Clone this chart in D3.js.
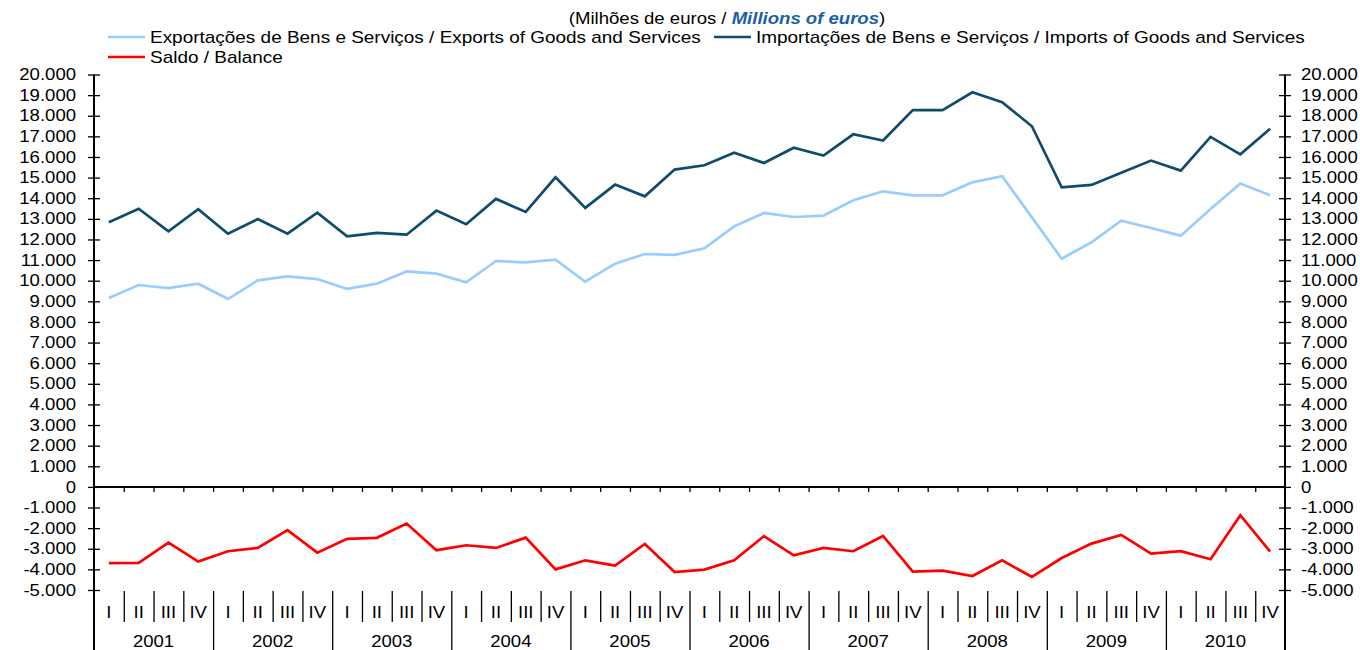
<!DOCTYPE html>
<html>
<head>
<meta charset="utf-8">
<script src="https://cdn.jsdelivr.net/npm/d3@7"></script>
<style>
  body { margin: 0; background: #fff; }
  svg { display: block; font-family: "Liberation Sans", Arial, sans-serif; }
  .tick text { font-size: 16px; fill: #000; }
</style>
</head>
<body>
<div id="chart"></div>
<script>
// --------------------------------------
//  Data
// --------------------------------------

const years = ["2001", "2002", "2003", "2004", "2005", "2006", "2007", "2008", "2009", "2010"];
const quarters = ["I", "II", "III", "IV"];

const exportsSeries = [9160, 9790, 9645, 9855, 9110, 10015, 10210, 10080, 9600, 9855,
  10450, 10340, 9920, 10955, 10890, 11020, 9950, 10825, 11295, 11250,
  11570, 12635, 13285, 13090, 13155, 13900, 14335, 14140, 14140, 14770,
  15065, 13070, 11070, 11860, 12910, 12555, 12185, 13480, 14710, 14140];

const importsSeries = [12830, 13490, 12390, 13470, 12280, 12990, 12280, 13300, 12150, 12315,
  12230, 13400, 12740, 13965, 13335, 15015, 13530, 14660, 14090, 15390,
  15600, 16210, 15710, 16450, 16070, 17100, 16800, 18270, 18270, 19140,
  18660, 17490, 14530, 14645, 15230, 15825, 15340, 16975, 16130, 17365];

const balanceSeries = [-3700, -3680, -2700, -3620, -3120, -2960, -2100, -3190, -2520, -2470,
  -1780, -3070, -2830, -2960, -2460, -4000, -3560, -3820, -2770, -4130,
  -4010, -3560, -2390, -3320, -2960, -3120, -2380, -4110, -4060, -4320,
  -3560, -4370, -3450, -2750, -2330, -3240, -3120, -3510, -1370, -3140];

const yTicks = d3.range(-5000, 20001, 1000);

// --------------------------------------
//  Canvas
// --------------------------------------

const width = 1360, height = 650;
const plotLeft = 94, plotRight = 1285, plotTop = 74.5, plotBottom = 590;
const stretch = 1.16; // the reference's text is wider than plain Arial
const legendStretch = 1.185;

const svg = d3.select("#chart").append("svg")
  .attr("width", width).attr("height", height);

const periods = years.flatMap(yr => quarters.map(q => `${yr}-${q}`));

const x = d3.scaleBand(periods, [plotLeft, plotRight]);
const xb = d3.scaleLinear([0, periods.length], [plotLeft, plotRight]); // band boundaries
const y = d3.scaleLinear([-5000, 20000], [plotBottom, plotTop]);

const fmt = d3.formatLocale({ decimal: ",", thousands: ".", grouping: [3], currency: ["", ""], minus: "-" }).format(",");

// --------------------------------------
//  Axes
// --------------------------------------

const yLeft = svg.append("g")
  .attr("transform", `translate(${plotLeft},0)`)
  .call(d3.axisLeft(y).tickValues(yTicks).tickSize(6).tickFormat(fmt));
yLeft.select(".domain").remove();
yLeft.selectAll(".tick line").attr("x1", 6).attr("stroke", "#000").attr("stroke-width", 1.3);
yLeft.selectAll(".tick text")
  .attr("x", -18 / stretch)
  .attr("transform", `scale(${stretch},1)`);

const yRight = svg.append("g")
  .attr("transform", `translate(${plotRight},0)`)
  .call(d3.axisRight(y).tickValues(yTicks).tickSize(6).tickFormat(fmt));
yRight.select(".domain").remove();
yRight.selectAll(".tick line").attr("x1", -6).attr("stroke", "#000").attr("stroke-width", 1.3);
yRight.selectAll(".tick text")
  .attr("x", 16 / stretch)
  .attr("transform", `scale(${stretch},1)`);

// vertical axis lines run down to the bottom of the category labels
[plotLeft, plotRight].forEach(px => {
  svg.append("line")
    .attr("x1", px).attr("x2", px)
    .attr("y1", plotTop).attr("y2", height)
    .attr("stroke", "#000").attr("stroke-width", 2);
});

// zero line with boundary ticks
const zeroAxis = svg.append("g")
  .attr("transform", `translate(0,${y(0)})`)
  .call(d3.axisBottom(xb).tickValues(d3.range(1, periods.length)).tickSize(5).tickFormat(""));
zeroAxis.select(".domain").remove();
zeroAxis.selectAll(".tick line").attr("stroke", "#000").attr("stroke-width", 1.3);
svg.append("line")
  .attr("x1", plotLeft).attr("x2", plotRight)
  .attr("y1", y(0)).attr("y2", y(0))
  .attr("stroke", "#000").attr("stroke-width", 2);

// quarter separators (short) and year separators (long)
const qSep = svg.append("g")
  .attr("transform", `translate(0,591)`)
  .call(d3.axisBottom(xb).tickValues(d3.range(1, periods.length).filter(i => i % 4 !== 0)).tickSize(31).tickFormat(""));
qSep.select(".domain").remove();
qSep.selectAll(".tick line").attr("stroke", "#000").attr("stroke-width", 1.3);

const ySep = svg.append("g")
  .attr("transform", `translate(0,591)`)
  .call(d3.axisBottom(xb).tickValues(d3.range(4, periods.length, 4)).tickSize(59).tickFormat(""));
ySep.select(".domain").remove();
ySep.selectAll(".tick line").attr("stroke", "#000").attr("stroke-width", 1.3);

// quarter labels
const qAxis = svg.append("g")
  .attr("transform", `translate(0,603)`)
  .call(d3.axisBottom(x).tickSize(0).tickFormat(d => d.split("-")[1]));
qAxis.select(".domain").remove();
qAxis.selectAll(".tick text")
  .attr("y", 0).attr("dy", "0.95em")
  .attr("transform", `scale(${stretch},1)`);

// year labels
svg.append("g").selectAll("g")
  .data(years)
  .join("g")
  .attr("transform", (d, i) => `translate(${xb(i * 4 + 2)},647) scale(${stretch},1)`)
  .append("text")
  .attr("text-anchor", "middle")
  .attr("font-size", 16)
  .text(d => d);

// --------------------------------------
//  Lines
// --------------------------------------

const line = d3.line()
  .x((d, i) => x(periods[i]) + x.bandwidth() / 2)
  .y(d => y(d));

const series = [
  { name: "Exportações de Bens e Serviços / Exports of Goods and Services", values: exportsSeries, color: "#99CCFF", w: 2.7 },
  { name: "Importações de Bens e Serviços / Imports of Goods and Services", values: importsSeries, color: "#0F4C6C", w: 2.7 },
  { name: "Saldo / Balance", values: balanceSeries, color: "#FF0000", w: 2.7 }
];

svg.append("g").selectAll("path")
  .data(series)
  .join("path")
  .attr("d", d => line(d.values))
  .attr("fill", "none")
  .attr("stroke", d => d.color)
  .attr("stroke-width", d => d.w)
  .attr("stroke-linejoin", "miter");

// --------------------------------------
//  Title and legend
// --------------------------------------

const title = svg.append("g")
  .attr("transform", `translate(727,24) scale(${stretch},1)`)
  .append("text")
  .attr("text-anchor", "middle")
  .attr("font-size", 16);
title.append("tspan").text("(Milhões de euros / ");
title.append("tspan").attr("fill", "#1A5FA6").attr("font-weight", "bold").attr("font-style", "italic").text("Millions  of euros");
title.append("tspan").text(")");

const legendPos = [[108, 37], [714, 37], [108, 57]];

const legend = svg.append("g").selectAll("g")
  .data(series)
  .join("g")
  .attr("transform", (d, i) => `translate(${legendPos[i][0]},${legendPos[i][1]})`);

legend.append("line")
  .attr("x1", 0).attr("x2", 37)
  .attr("stroke", d => d.color)
  .attr("stroke-width", 2.7);

legend.append("text")
  .attr("transform", `translate(42,6) scale(${legendStretch},1)`)
  .attr("font-size", 16)
  .text(d => d.name);
</script>
</body>
</html>
